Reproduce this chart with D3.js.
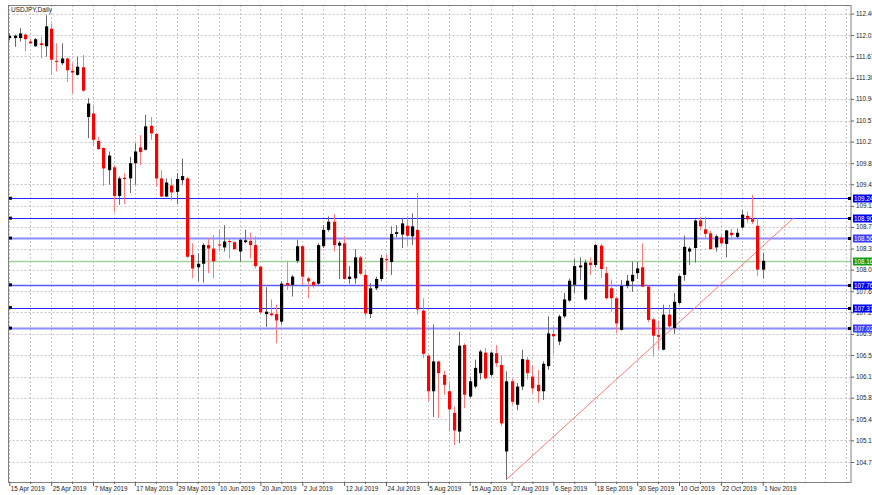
<!DOCTYPE html>
<html>
<head>
<meta charset="utf-8">
<script src="https://cdn.jsdelivr.net/npm/d3@7/dist/d3.min.js"></script>
<style>
body{margin:0;background:#fff;}
svg{display:block;font-family:"Liberation Sans",Arial,sans-serif;}
</style>
</head>
<body>
<div class="container"></div>
<script>
var WIDTH = 872, HEIGHT = 495;
var PLOT = {left: 8.5, top: 5, right: 851, bottom: 482};

var title = "USDJPY,Daily";

// trading days, 15 Apr 2019 .. 1 Nov 2019 (Mon-Fri)
var dates = d3.timeDay.range(new Date(2019, 3, 15), new Date(2019, 10, 2))
    .filter(function(d){ return d.getDay() !== 0 && d.getDay() !== 6; });

var open = [111.98,111.98,111.98,112.04,111.92,111.84,111.89,111.84,112.14,111.59,
            111.55,111.63,111.42,111.35,111.48,110.63,110.69,110.22,110.10,109.72,
            109.77,109.28,109.59,109.58,109.84,110.11,110.07,110.48,110.34,109.58,
            109.27,109.46,109.35,109.55,109.58,108.27,108.06,108.12,108.44,108.38,
            108.45,108.40,108.51,108.49,108.33,108.49,108.51,108.44,108.07,107.26,
            107.27,107.26,107.13,107.79,107.76,108.17,108.42,107.87,107.81,107.78,
            108.42,108.70,108.84,108.43,108.47,107.86,107.87,108.23,107.93,107.26,
            107.70,107.86,108.20,108.15,108.63,108.62,108.77,108.59,108.70,107.32,
            106.55,105.94,106.45,106.22,105.94,105.57,105.25,106.73,105.85,106.02,
            106.25,106.60,106.22,106.59,106.39,104.91,106.11,105.71,106.02,106.48,
            106.19,106.05,105.94,106.37,106.92,106.79,107.22,107.49,107.76,108.06,
            107.51,108.14,108.10,108.43,107.96,107.70,107.53,106.99,107.74,107.82,
            107.96,108.06,107.73,107.17,106.90,106.65,107.25,107.02,107.45,107.93,
            108.33,108.39,108.86,108.71,108.64,108.40,108.57,108.46,108.65,108.58,
            108.74,108.94,108.88,108.77,108.02];
var high = [112.06,112.04,112.15,112.06,111.96,111.98,112.00,112.37,112.23,111.89,
            111.89,111.65,111.55,111.66,111.69,110.95,110.84,110.29,110.11,110.04,
            109.81,109.61,109.67,109.95,110.18,110.32,110.67,110.63,110.36,109.72,
            109.58,109.58,109.67,109.92,109.60,108.47,108.30,108.47,108.56,108.61,
            108.70,108.78,108.56,108.50,108.55,108.70,108.65,108.59,108.08,107.72,
            107.51,107.42,107.82,108.16,107.93,108.53,108.44,107.90,107.83,108.47,
            108.78,108.93,108.97,108.51,108.59,108.08,108.37,108.25,108.02,107.79,
            107.90,108.27,108.27,108.76,108.78,108.90,108.93,108.98,109.33,107.53,
            106.55,107.08,106.46,106.29,106.08,105.68,106.96,106.76,106.19,106.48,
            106.65,106.68,106.62,106.73,106.56,106.28,106.15,106.08,106.65,106.53,
            106.39,106.30,106.45,107.22,107.05,107.25,107.62,107.87,108.20,108.23,
            108.19,108.23,108.46,108.46,108.07,107.85,107.56,107.84,107.93,108.16,
            108.16,108.47,107.75,107.20,107.15,107.42,107.42,107.62,107.93,108.60,
            108.41,108.88,108.92,108.93,108.68,108.62,108.62,108.70,108.72,108.72,
            109.04,109.01,109.30,108.90,108.31];
var low = [111.94,111.83,111.92,111.75,111.88,111.83,111.63,111.66,111.35,111.41,
           111.52,111.23,111.04,111.34,111.06,110.27,110.15,110.07,109.45,109.47,
           109.00,109.13,109.14,109.33,109.47,109.81,110.06,110.24,109.44,109.26,
           109.26,109.20,109.14,109.47,108.22,107.87,107.82,107.80,107.96,107.87,
           108.33,108.33,108.21,108.36,108.16,108.47,108.21,108.04,107.27,107.04,
           107.22,106.76,107.08,107.67,107.56,108.13,107.76,107.53,107.70,107.76,
           108.39,108.67,108.33,107.86,107.85,107.78,107.78,107.93,107.22,107.19,
           107.67,107.82,107.99,107.93,108.57,108.39,108.44,108.44,107.25,106.51,
           105.77,105.50,105.48,105.88,105.25,105.02,105.05,105.65,105.82,105.99,
           106.14,106.14,106.19,106.36,105.34,104.43,105.71,105.62,105.96,106.14,
           105.91,105.74,105.79,106.31,106.59,106.73,107.19,107.47,107.62,107.84,
           107.49,107.93,108.06,107.88,107.51,107.30,106.94,106.98,107.70,107.64,
           107.86,107.72,107.12,106.53,106.65,106.64,107.02,106.92,107.42,107.83,
           108.10,108.14,108.70,108.55,108.36,108.33,108.44,108.23,108.53,108.55,
           108.72,108.82,108.80,107.91,107.87];
var close = [112.02,112.02,112.06,111.96,111.89,111.96,111.86,112.18,111.61,111.58,
             111.63,111.43,111.39,111.49,111.08,110.86,110.24,110.08,109.75,109.97,
             109.28,109.58,109.57,109.84,110.04,110.03,110.47,110.35,109.58,109.27,
             109.51,109.34,109.57,109.62,108.24,108.04,108.12,108.44,108.38,108.16,
             108.44,108.50,108.49,108.37,108.53,108.52,108.44,108.08,107.29,107.30,
             107.24,107.15,107.78,107.75,107.90,108.42,107.90,107.82,107.75,108.44,
             108.70,108.84,108.44,108.48,107.86,107.90,108.23,107.95,107.27,107.70,
             107.86,108.22,108.18,108.63,108.66,108.81,108.60,108.76,107.34,106.58,
             105.94,106.45,106.25,106.05,105.63,105.27,106.72,105.88,106.11,106.34,
             106.62,106.16,106.60,106.42,105.39,106.11,105.76,106.02,106.49,106.25,
             105.99,105.94,106.41,106.93,106.88,107.22,107.51,107.83,108.08,108.09,
             108.14,108.10,108.44,108.03,107.53,107.53,107.10,107.74,107.83,107.93,
             108.04,107.73,107.16,106.89,106.87,107.25,107.05,107.47,107.91,108.41,
             108.38,108.86,108.76,108.63,108.37,108.59,108.47,108.69,108.61,108.65,
             108.96,108.88,108.84,108.02,108.17];

var priceTicks = [112.40,112.03,111.67,111.30,110.94,110.57,110.21,109.84,109.48,109.11,
                  108.75,108.38,108.02,107.65,107.29,106.92,106.56,106.19,105.83,105.46,
                  105.10,104.73];
var levels = [109.24,108.90,108.56,107.76,107.37,107.02];
var bid = 108.16;
var trendBar = [95, 150];
var trendPrice = [104.43, 108.91];

var svg = d3.select('.container').append('svg')
            .attr('width', WIDTH)
            .attr('height', HEIGHT);

var x = d3.scaleLinear().domain([0, 144]).range([9.3, 762.7]);
var y = d3.scaleLinear().domain([104.73, 112.40]).range([462, 13.5]);
var fmt = d3.timeFormat('%-d %b %Y');

svg.append('clipPath').attr('id', 'plot')
   .append('rect')
   .attr('x', PLOT.left).attr('y', PLOT.top)
   .attr('width', PLOT.right - PLOT.left).attr('height', PLOT.bottom - PLOT.top);

// grid
var grid = svg.append('g').attr('stroke', '#c4c4c4').attr('stroke-dasharray', '2,2');
grid.selectAll('line.v').data(d3.range(0, 162, 4).filter(function(i){ return x(i) < PLOT.right - 2; }))
    .enter().append('line')
    .attr('x1', function(i){ return Math.round(x(i)) + 0.5; })
    .attr('x2', function(i){ return Math.round(x(i)) + 0.5; })
    .attr('y1', PLOT.top).attr('y2', PLOT.bottom);
grid.selectAll('line.h').data(priceTicks)
    .enter().append('line')
    .attr('x1', PLOT.left).attr('x2', PLOT.right)
    .attr('y1', function(d){ return Math.round(y(d)) + 0.5; })
    .attr('y2', function(d){ return Math.round(y(d)) + 0.5; });

var g = svg.append('g').attr('clip-path', 'url(#plot)');

// horizontal levels
var faint = [108.56, 107.02];
g.selectAll('line.level').data(levels).enter().append('line')
    .attr('x1', PLOT.left).attr('x2', PLOT.right)
    .attr('y1', function(d){ return Math.round(y(d)) + 0.5; })
    .attr('y2', function(d){ return Math.round(y(d)) + 0.5; })
    .attr('stroke', function(d){ return faint.indexOf(d) >= 0 ? '#8c8cff' : (d === 107.76 ? '#5a5aff' : '#2626ff'); })
    .attr('stroke-width', function(d){ return faint.indexOf(d) >= 0 ? 2 : (d === 107.76 ? 1.5 : 1); });

g.append('line')
    .attr('x1', PLOT.left).attr('x2', PLOT.right)
    .attr('y1', y(bid)).attr('y2', y(bid))
    .attr('stroke', '#9fd09f').attr('stroke-width', 1.6);

// trend line
g.append('line')
    .attr('x1', x(trendBar[0])).attr('y1', y(trendPrice[0]))
    .attr('x2', x(trendBar[1])).attr('y2', y(trendPrice[1]))
    .attr('stroke', '#ff7b7b').attr('stroke-width', 1);

// candles
var candles = g.selectAll('g.candle').data(d3.range(dates.length))
    .enter().append('g').classed('candle', true);

candles.append('line')
    .attr('x1', function(i){ return Math.round(x(i)) + 0.5; })
    .attr('x2', function(i){ return Math.round(x(i)) + 0.5; })
    .attr('y1', function(i){ return y(high[i]); })
    .attr('y2', function(i){ return y(low[i]); })
    .attr('stroke', function(i){ return close[i] >= open[i] ? '#6a6a6a' : '#ff7a7a'; })
    .attr('stroke-width', 1);

candles.append('rect')
    .attr('x', function(i){ return Math.round(x(i)) - 1; })
    .attr('width', 3.2)
    .attr('y', function(i){ return y(Math.max(open[i], close[i])); })
    .attr('height', function(i){ return Math.max(1, Math.abs(y(open[i]) - y(close[i]))); })
    .attr('fill', function(i){ return close[i] >= open[i] ? '#000' : '#ff0000'; });

// level markers at the left edge
g.selectAll('rect.mark').data(levels).enter().append('rect')
    .attr('x', 9).attr('y', function(d){ return y(d) - 1.5; })
    .attr('width', 3).attr('height', 3).attr('fill', '#000060');

// frame
svg.append('rect')
    .attr('x', PLOT.left).attr('y', PLOT.top + 0.5)
    .attr('width', PLOT.right - PLOT.left).attr('height', PLOT.bottom - PLOT.top)
    .attr('fill', 'none').attr('stroke', '#808080');

// axes
var yAxis = d3.axisRight(y).tickValues(priceTicks).tickSize(3).tickPadding(2)
              .tickFormat(d3.format('.2f'));
var ya = svg.append('g').attr('transform', 'translate(' + PLOT.right + ',0)').call(yAxis);
ya.select('.domain').remove();
ya.selectAll('line').attr('stroke', '#606060');
ya.selectAll('text').attr('font-size', '6.3px').attr('fill', '#222')
  .attr('font-family', '"Liberation Sans",Arial,sans-serif');

var xAxis = d3.axisBottom(x).tickValues(d3.range(0, 145, 4)).tickSize(3)
              .tickFormat(function(i){ return i % 8 === 0 ? fmt(dates[i]) : ''; });
var xa = svg.append('g').attr('transform', 'translate(0,' + PLOT.bottom + ')').call(xAxis);
xa.select('.domain').remove();
xa.selectAll('line').attr('stroke', '#606060')
  .attr('y2', function(i){ return i % 8 === 0 ? 4 : 2; });
xa.selectAll('text').attr('font-size', '6.3px').attr('fill', '#222')
  .attr('text-anchor', 'start').attr('dx', '1px').attr('y', 5)
  .attr('font-family', '"Liberation Sans",Arial,sans-serif');

// price labels on the right axis
var tags = svg.append('g');
tags.selectAll('rect.tag').data(levels.concat([bid])).enter().append('rect')
    .attr('x', PLOT.right + 2).attr('y', function(d){ return Math.round(y(d)) - 3.5; })
    .attr('width', 22).attr('height', 8)
    .attr('fill', function(d){ return d === bid ? '#149a14' : (faint.indexOf(d) >= 0 ? '#3a3aff' : '#0000f0'); });
tags.selectAll('text.tag').data(levels.concat([bid])).enter().append('text')
    .attr('x', PLOT.right + 3).attr('y', function(d){ return Math.round(y(d)) + 2.8; })
    .attr('font-size', '6.3px').attr('fill', '#fff')
    .text(function(d){ return d3.format('.2f')(d); });
tags.selectAll('rect.end').data(levels).enter().append('rect')
    .attr('x', PLOT.right - 3).attr('y', function(d){ return Math.round(y(d)) - 1; })
    .attr('width', 3).attr('height', 3).attr('fill', '#000');

svg.append('text')
   .attr('x', 11).attr('y', 12)
   .attr('font-size', '6.5px').attr('fill', '#222')
   .text(title);
</script>
</body>
</html>
